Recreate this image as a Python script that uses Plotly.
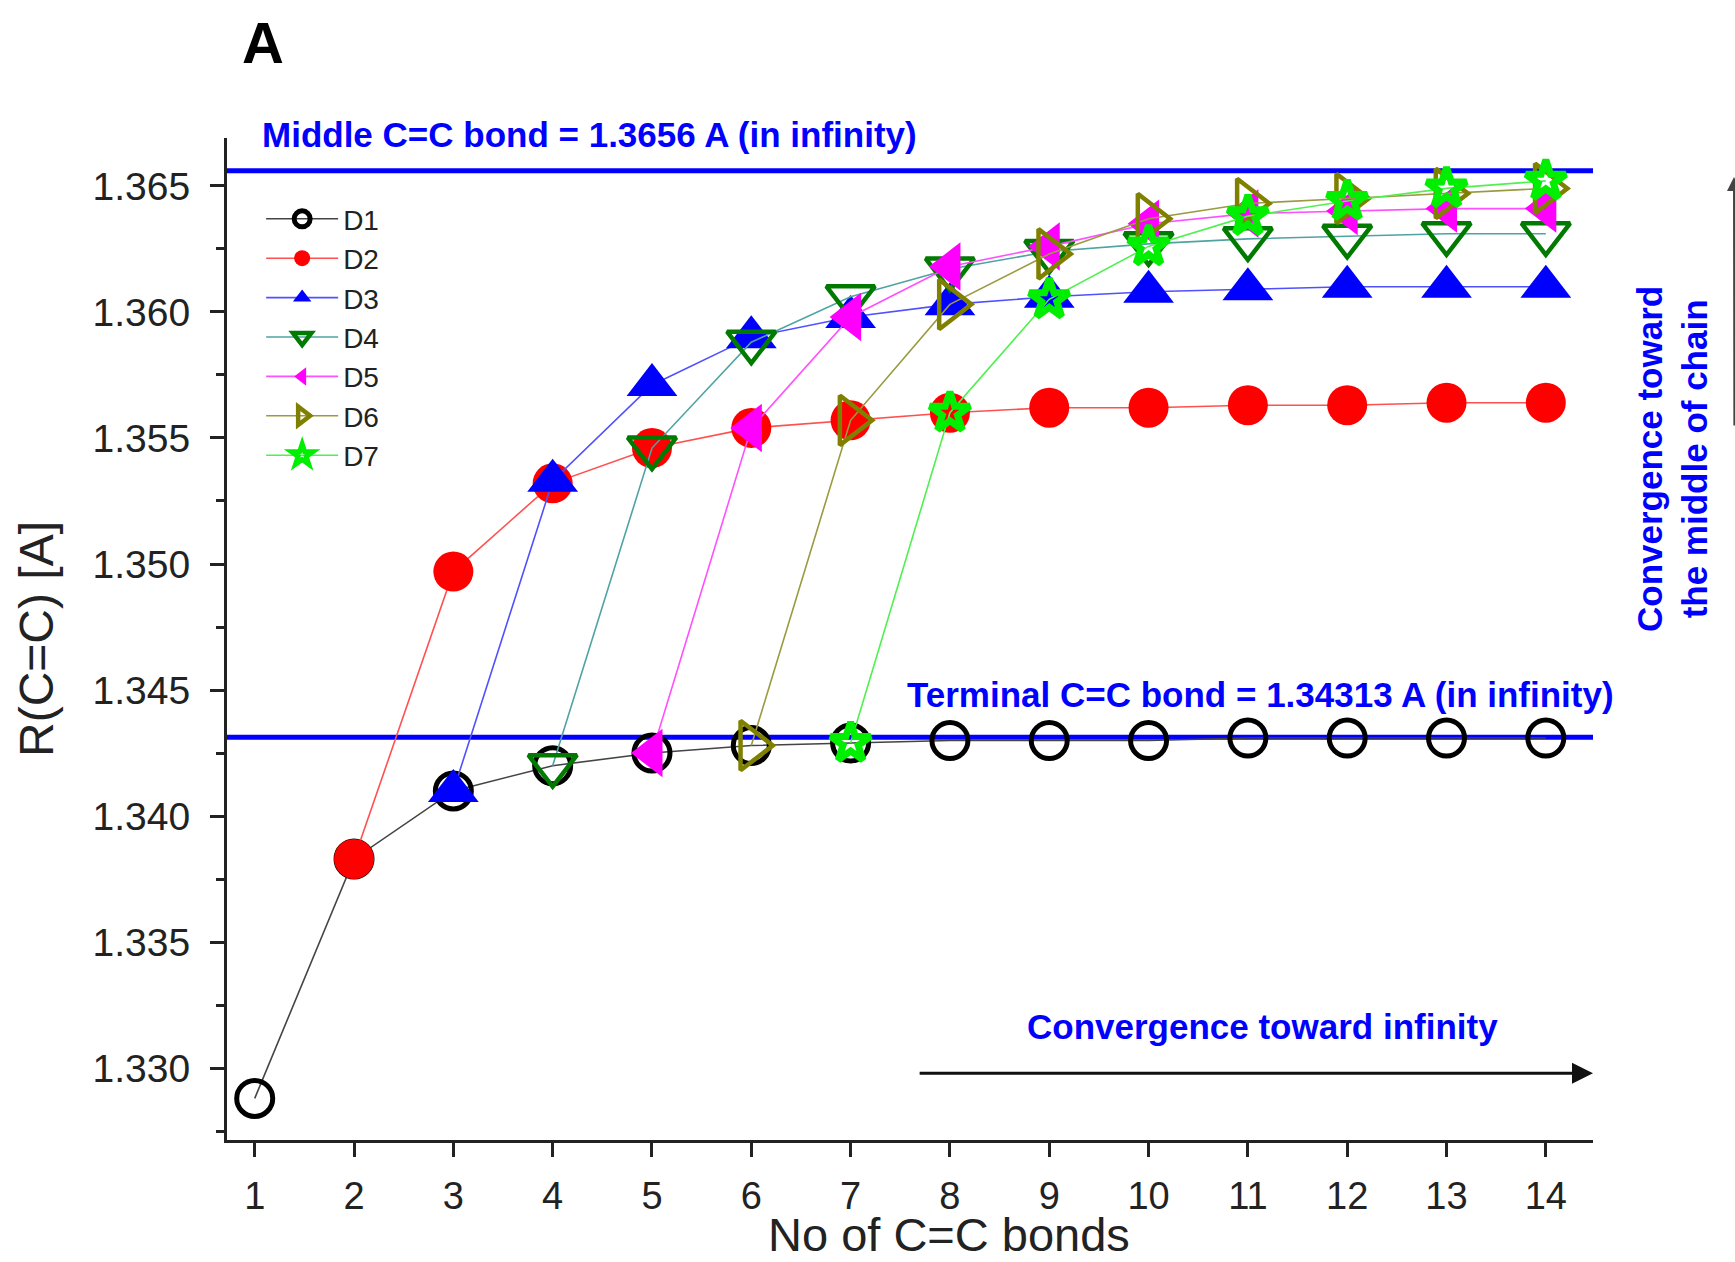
import plotly.graph_objects as go

# ---------------- data ----------------
series_names = ["D1", "D2", "D3", "D4", "D5", "D6", "D7"]
x_d1 = list(range(1, 15))
y_d1 = [1.3288, 1.3383, 1.3410, 1.3420, 1.3425, 1.3428, 1.3429,
        1.3430, 1.3430, 1.3430, 1.3431, 1.3431, 1.3431, 1.3431]
x_d2 = list(range(2, 15))
y_d2 = [1.3383, 1.3497, 1.3532, 1.3546, 1.3554, 1.3557, 1.3560,
        1.3562, 1.3562, 1.3563, 1.3563, 1.3564, 1.3564]
x_d3 = list(range(3, 15))
y_d3 = [1.3410, 1.3533, 1.3571, 1.3590, 1.3598, 1.3603, 1.3606,
        1.3608, 1.3609, 1.3610, 1.3610, 1.3610]
x_d4 = list(range(4, 15))
y_d4 = [1.3420, 1.3546, 1.3588, 1.3606, 1.3617, 1.3624, 1.3627,
        1.3629, 1.3630, 1.3631, 1.3631]
x_d5 = list(range(5, 15))
y_d5 = [1.3425, 1.3554, 1.3598, 1.3618, 1.3626, 1.3635, 1.3639,
        1.3640, 1.3641, 1.3641]
x_d6 = list(range(6, 15))
y_d6 = [1.3428, 1.3557, 1.3603, 1.3623, 1.3637, 1.3643, 1.3645,
        1.3647, 1.3649]
x_d7 = list(range(7, 15))
y_d7 = [1.3429, 1.3560, 1.3605, 1.3626, 1.3638, 1.3644, 1.3649, 1.3652]

middle_bond = 1.3656
terminal_bond = 1.34313
x_ticks = list(range(1, 15))
y_ticks = [1.330, 1.335, 1.340, 1.345, 1.350, 1.355, 1.360, 1.365]
x_title = "No of C=C bonds"
y_title = "R(C=C) [A]"
arrow_x_start = 7.68
arrow_y = 1.3298

# ---------------- styles ----------------
FONT = "Liberation Sans, Arial, sans-serif"
styles = [
    dict(symbol="circle-open", size=36, color="black", mlw=5, line="#444444"),
    dict(symbol="circle", size=40, color="#ff0000", mlw=0, line="#ff5050"),
    dict(symbol="triangle-up", size=44, color="#0000ff", mlw=0, line="#5050ff"),
    dict(symbol="triangle-down-open", size=42, color="#007a00", mlw=4.5, line="#4fa3a3"),
    dict(symbol="triangle-left", size=42, color="#ff00ff", mlw=0, line="#ff50ff"),
    dict(symbol="triangle-right-open", size=43, color="#808000", mlw=4.5, line="#9a9a40"),
    dict(symbol="star-open", size=30, color="#00ee00", mlw=7, line="#50f050"),
]
xs = [x_d1, x_d2, x_d3, x_d4, x_d5, x_d6, x_d7]
ys = [y_d1, y_d2, y_d3, y_d4, y_d5, y_d6, y_d7]

fig = go.Figure()
for name, x, y, s in zip(series_names, xs, ys, styles):
    fig.add_trace(go.Scatter(
        x=x, y=y, name=name, mode="lines+markers",
        line=dict(color=s["line"], width=1.6),
        marker=dict(symbol=s["symbol"], size=s["size"], color=s["color"],
                    line=dict(color=s["color"], width=s["mlw"])),
    ))

# reference lines
for val in (middle_bond, terminal_bond):
    fig.add_shape(type="line", xref="paper", x0=0, x1=1, yref="y", y0=val, y1=val,
                  line=dict(color="#0000ff", width=5), layer="below")

blue_font = dict(family=FONT, size=35, color="#0000ff")
annotations = [
    dict(text="<b>A</b>", xref="paper", yref="paper", x=0.0264, y=1.0958,
         xanchor="center", yanchor="middle", showarrow=False,
         font=dict(family=FONT, size=58, color="black")),
    dict(text="<b>Middle C=C bond = 1.3656 A (in infinity)</b>", xref="paper", yref="paper",
         x=0.0240, y=1.003, xanchor="left", yanchor="middle", showarrow=False, font=blue_font),
    dict(text="<b>Terminal C=C bond = 1.34313 A (in infinity)</b>", xref="paper", yref="paper",
         x=0.4965, y=0.4451, xanchor="left", yanchor="middle", showarrow=False, font=blue_font),
    dict(text="<b>Convergence toward infinity</b>", xref="paper", yref="paper",
         x=0.584, y=0.1128, xanchor="left", yanchor="middle", showarrow=False, font=blue_font),
    dict(text="<b>Convergence toward<br>the middle of chain</b>", xref="paper", yref="paper",
         x=1.0578, y=0.6796, xanchor="center", yanchor="middle", textangle=-90,
         showarrow=False, font=blue_font),
    # x axis title (placed as in the reference, slightly right of centre)
    dict(text=x_title, xref="paper", yref="paper", x=0.5286, y=-0.0945,
         xanchor="center", yanchor="middle", showarrow=False,
         font=dict(family=FONT, size=47, color="#222222")),
    # convergence arrow along x
    dict(text="", xref="x", yref="y", x=14.475, y=arrow_y, axref="x", ayref="y",
         ax=arrow_x_start, ay=arrow_y, showarrow=True, arrowhead=2, arrowsize=1.4,
         arrowwidth=3, arrowcolor="#111111"),
    # partially visible vertical arrow at right edge
    dict(text="", xref="paper", yref="paper", x=1.1035, y=0.9611, axref="pixel", ayref="pixel",
         ax=0, ay=250, showarrow=True, arrowhead=2, arrowsize=1.4,
         arrowwidth=2, arrowcolor="#444444"),
]

fig.update_layout(
    width=1735, height=1262,
    margin=dict(l=227, r=142, t=138, b=122),
    paper_bgcolor="white", plot_bgcolor="white",
    font=dict(family=FONT, color="#222222"),
    showlegend=True,
    legend=dict(x=0.025, y=0.944, xanchor="left", yanchor="top",
                font=dict(family=FONT, size=28, color="#222222"),
                bgcolor="rgba(0,0,0,0)", itemwidth=72, tracegroupgap=0),
    annotations=annotations,
)
fig.update_xaxes(
    range=[0.721, 14.475], tickmode="array", tickvals=x_ticks,
    ticks="outside", ticklen=14, tickwidth=2.5, tickcolor="#222222",
    showline=True, linewidth=3, linecolor="#222222", mirror=False,
    showgrid=False, zeroline=False, automargin=False,
    tickfont=dict(family=FONT, size=38, color="#222222"),
    ticklabelstandoff=6,
)
fig.update_yaxes(
    range=[1.32715, 1.3669], tickmode="array", tickvals=y_ticks,
    ticktext=[f"{v:.3f}" for v in y_ticks],
    ticks="outside", ticklen=14, tickwidth=2.5, tickcolor="#222222",
    minor=dict(dtick=0.0025, tick0=1.33, ticks="outside", ticklen=8, tickwidth=2.5, tickcolor="#222222"),
    showline=True, linewidth=3, linecolor="#222222", mirror=False,
    showgrid=False, zeroline=False, automargin=False,
    tickfont=dict(family=FONT, size=39, color="#222222"),
    ticklabelstandoff=12,
    title=dict(text=y_title, font=dict(family=FONT, size=48, color="#222222"), standoff=24),
)

fig.write_html("out.html")
